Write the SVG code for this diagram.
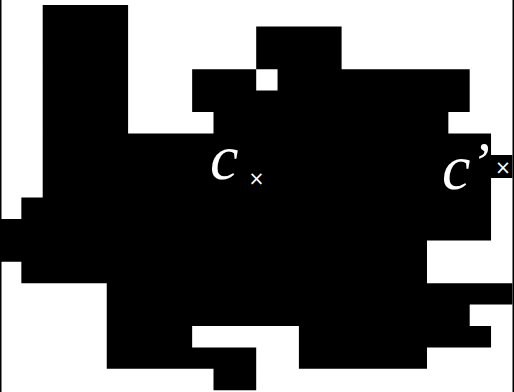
<svg xmlns="http://www.w3.org/2000/svg" width="514" height="392" viewBox="0 0 514 392">
  <style>
    .blob { fill: #000; stroke: none; }
    .edge { stroke: #000; stroke-width: 1.5; }
    .lbl { fill: #fff; font-family: "Liberation Serif", "DejaVu Serif", serif; font-style: italic; font-size: 64px; }
    .mark { fill: #fff; font-family: "DejaVu Sans", "Liberation Sans", sans-serif; font-size: 19px; }
  </style>
  <rect width="514" height="392" fill="#fff"/>
  <g id="region">
    <path class="blob" d="
      M42.7 5 H128.1 V133.4 H42.7 Z
      M256.2 26.4 H341.6 V69.2 H256.2 Z
      M192.15 69.2 H256.2 V90.6 H192.15 Z
      M277.55 69.2 H469.7 V90.6 H277.55 Z
      M192.15 90.6 H469.7 V112 H192.15 Z
      M213.5 112 H448.35 V133.4 H213.5 Z
      M42.7 133.4 H491.05 V197.6 H42.7 Z
      M491.05 155 H512.4 V178 H491.05 Z
      M21.35 197.6 H491.05 V219 H21.35 Z
      M0 219 H491.05 V240.4 H0 Z
      M0 240.4 H427 V261.8 H0 Z
      M21.35 261.8 H427 V283.2 H21.35 Z
      M106.75 283.2 H512.4 V304.6 H106.75 Z
      M106.75 304.6 H469.7 V326 H106.75 Z
      M106.75 326 H192.15 V347.4 H106.75 Z
      M298.9 326 H491.05 V347.4 H298.9 Z
      M106.75 347.4 H256.2 V368.8 H106.75 Z
      M298.9 347.4 H427 V368.8 H298.9 Z
      M213.5 368.8 H256.2 V390.2 H213.5 Z"/>
  </g>
  <g id="frame">
    <line class="edge" x1="0.75" y1="0" x2="0.75" y2="392"/>
    <line class="edge" x1="513.25" y1="0" x2="513.25" y2="392"/>
  </g>
  <g id="label-c">
    <text class="lbl" x="210" y="179">c</text>
    <text class="mark" x="256.5" y="185" text-anchor="middle">×</text>
  </g>
  <g id="label-c-prime">
    <text class="lbl" x="442" y="189">c<tspan dy="-7" font-size="58">’</tspan></text>
    <text class="mark" x="503" y="174" text-anchor="middle">×</text>
  </g>
</svg>
